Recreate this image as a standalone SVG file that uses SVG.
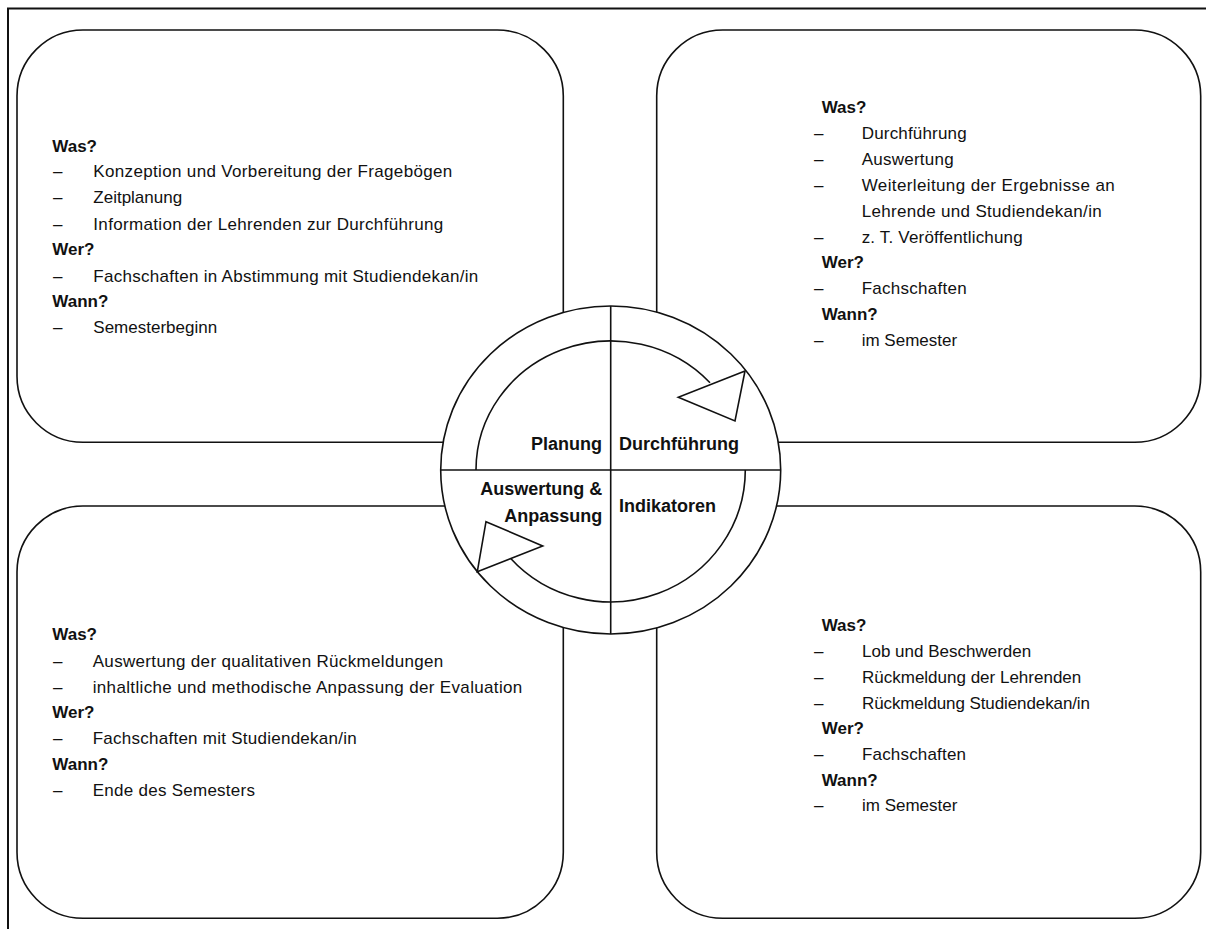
<svg xmlns="http://www.w3.org/2000/svg" width="1206" height="929" viewBox="0 0 1206 929">
<style>
.frame{fill:none;stroke:#111;stroke-width:2}
.box{fill:#fff;stroke:#111;stroke-width:1.6}
.ln{fill:none;stroke:#111;stroke-width:1.6}
.tri{fill:#fff;stroke:#111;stroke-width:1.6;stroke-linejoin:miter}
text{font-family:"Liberation Sans",Arial,sans-serif;fill:#111}
.t{font-size:17px}
.h{font-size:17px;font-weight:bold}
.c{font-size:18px;font-weight:bold}
</style>
<rect id="frame" class="frame" x="8" y="8.5" width="1220" height="940"/>
<g id="box-planung">
<rect class="box" x="17" y="30" width="546.3" height="412.3" rx="66" ry="66"/>
<text class="h" x="52.3" y="151.7">Was?</text>
<text class="t" x="53" y="176.7">–</text><text class="t" x="93.3" y="176.7" textLength="359">Konzeption und Vorbereitung der Fragebögen</text>
<text class="t" x="53" y="203.3">–</text><text class="t" x="93.3" y="203.3">Zeitplanung</text>
<text class="t" x="53" y="230">–</text><text class="t" x="93.3" y="230" textLength="350">Information der Lehrenden zur Durchführung</text>
<text class="h" x="52.3" y="255">Wer?</text>
<text class="t" x="53" y="282">–</text><text class="t" x="93.3" y="282" textLength="385">Fachschaften in Abstimmung mit Studiendekan/in</text>
<text class="h" x="52.3" y="307.3">Wann?</text>
<text class="t" x="53" y="333.3">–</text><text class="t" x="93.3" y="333.3">Semesterbeginn</text>
</g>
<g id="box-durchfuehrung">
<rect class="box" x="656.7" y="30" width="544" height="412.3" rx="66" ry="66"/>
<text class="h" x="821.7" y="113">Was?</text>
<text class="t" x="814" y="138.9">–</text><text class="t" x="861.7" y="138.9" textLength="105">Durchführung</text>
<text class="t" x="814" y="164.8">–</text><text class="t" x="861.7" y="164.8" textLength="92">Auswertung</text>
<text class="t" x="814" y="190.7">–</text><text class="t" x="861.7" y="190.7" textLength="253">Weiterleitung der Ergebnisse an</text>
<text class="t" x="861.7" y="216.6" textLength="240">Lehrende und Studiendekan/in</text>
<text class="t" x="814" y="242.5">–</text><text class="t" x="861.7" y="242.5" textLength="161">z. T. Veröffentlichung</text>
<text class="h" x="821.7" y="268.4">Wer?</text>
<text class="t" x="814" y="294.3">–</text><text class="t" x="861.7" y="294.3" textLength="105">Fachschaften</text>
<text class="h" x="821.7" y="320.2">Wann?</text>
<text class="t" x="814" y="346.1">–</text><text class="t" x="861.7" y="346.1">im Semester</text>
</g>
<g id="box-auswertung">
<rect class="box" x="17" y="506" width="546.3" height="412.3" rx="66" ry="66"/>
<text class="h" x="52.3" y="640">Was?</text>
<text class="t" x="53" y="666.7">–</text><text class="t" x="92.7" y="666.7" textLength="350.6">Auswertung der qualitativen Rückmeldungen</text>
<text class="t" x="53" y="692.7">–</text><text class="t" x="92.7" y="692.7" textLength="429.6">inhaltliche und methodische Anpassung der Evaluation</text>
<text class="h" x="52.3" y="718.3">Wer?</text>
<text class="t" x="53" y="744">–</text><text class="t" x="92.7" y="744" textLength="264">Fachschaften mit Studiendekan/in</text>
<text class="h" x="52.3" y="770">Wann?</text>
<text class="t" x="53" y="795.7">–</text><text class="t" x="92.7" y="795.7" textLength="162.3">Ende des Semesters</text>
</g>
<g id="box-indikatoren">
<rect class="box" x="656.7" y="506" width="544" height="412.3" rx="66" ry="66"/>
<text class="h" x="821.7" y="631">Was?</text>
<text class="t" x="814" y="657">–</text><text class="t" x="862" y="657">Lob und Beschwerden</text>
<text class="t" x="814" y="682.7">–</text><text class="t" x="862" y="682.7">Rückmeldung der Lehrenden</text>
<text class="t" x="814" y="708.5">–</text><text class="t" x="862" y="708.5" textLength="228">Rückmeldung Studiendekan/in</text>
<text class="h" x="821.7" y="734">Wer?</text>
<text class="t" x="814" y="760">–</text><text class="t" x="862" y="760" textLength="104">Fachschaften</text>
<text class="h" x="821.7" y="785.5">Wann?</text>
<text class="t" x="814" y="811">–</text><text class="t" x="862" y="811">im Semester</text>
</g>
<g id="cycle">
<ellipse class="box" cx="610.7" cy="470" rx="170" ry="164"/>
<line class="ln" x1="610.7" y1="306" x2="610.7" y2="634"/>
<line class="ln" x1="440.7" y1="470" x2="780.7" y2="470"/>
<text class="c" x="602" y="449.5" text-anchor="end">Planung</text>
<text class="c" x="619" y="449.5">Durchführung</text>
<text class="c" x="602.3" y="495" text-anchor="end">Auswertung &amp;</text>
<text class="c" x="602.3" y="521.5" text-anchor="end">Anpassung</text>
<text class="c" x="619" y="512">Indikatoren</text>
</g>
<g id="connectors">
<path class="ln" d="M476,470 A134.7,129 0 0 1 710,382.8"/>
<polygon class="tri" points="745,371 678.3,397.3 735,421"/>
<path class="ln" d="M745.3,470 A134.7,132 0 0 1 510,557.7"/>
<polygon class="tri" points="486,521.7 542.7,546 477.3,571.7"/>
</g>
</svg>
